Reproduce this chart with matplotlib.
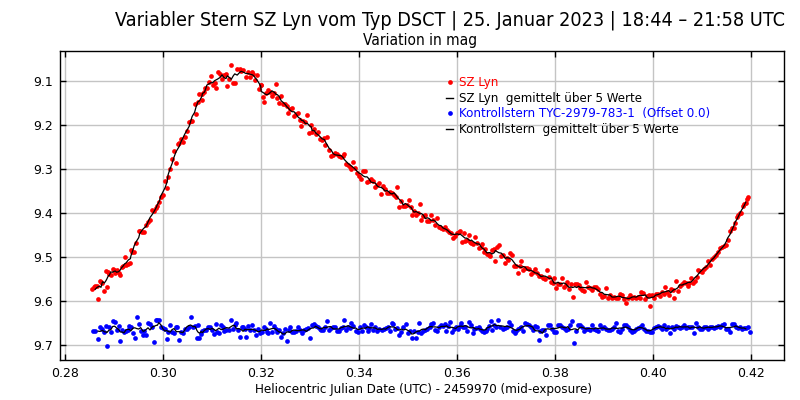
import matplotlib
matplotlib.use("Agg")
import matplotlib.pyplot as plt
from matplotlib import font_manager as fm
from matplotlib.lines import Line2D
import pandas as pd

# SZ Lyn (HJD - 2459970, mag)
var_hjd = [
    0.2855, 0.2858, 0.2861, 0.2864, 0.2867, 0.2870, 0.2873, 0.2876, 0.2880, 0.2883,
    0.2885, 0.2888, 0.2890, 0.2893, 0.2897, 0.2899, 0.2902, 0.2905, 0.2909, 0.2912,
    0.2915, 0.2918, 0.2921, 0.2924, 0.2929, 0.2933, 0.2934, 0.2937, 0.2941, 0.2945, 0.2950,
    0.2952, 0.2957, 0.2960, 0.2965, 0.2969, 0.2973, 0.2978, 0.2982, 0.2986, 0.2988,
    0.2992, 0.2995, 0.2999, 0.3004, 0.3008, 0.3010, 0.3014, 0.3018, 0.3026, 0.3022,
    0.3031, 0.3033, 0.3037, 0.3040, 0.3044, 0.3048, 0.3053, 0.3057, 0.3059, 0.3067,
    0.3064, 0.3071, 0.3074, 0.3079, 0.3080, 0.3084, 0.3086, 0.3089, 0.3094, 0.3097,
    0.3101, 0.3105, 0.3107, 0.3111, 0.3116, 0.3120, 0.3124, 0.3128, 0.3131, 0.3135,
    0.3139, 0.3143, 0.3146, 0.3151, 0.3156, 0.3159, 0.3163, 0.3169, 0.3173, 0.3178,
    0.3182, 0.3184, 0.3188, 0.3192, 0.3195, 0.3199,
    0.3200, 0.3203, 0.3206, 0.3210, 0.3214, 0.3218, 0.3222, 0.3227, 0.3231, 0.3233,
    0.3237, 0.3241, 0.3245, 0.3249, 0.3253, 0.3255, 0.3259, 0.3263, 0.3267, 0.3271,
    0.3276, 0.3280, 0.3282, 0.3286, 0.3290, 0.3294, 0.3298, 0.3302, 0.3304, 0.3308,
    0.3312, 0.3316, 0.3320, 0.3324, 0.3329, 0.3331, 0.3335, 0.3339, 0.3343, 0.3347,
    0.3351, 0.3355, 0.3359, 0.3363, 0.3367, 0.3369, 0.3373, 0.3378, 0.3382, 0.3384,
    0.3388, 0.3392, 0.3396, 0.3400, 0.3404, 0.3408, 0.3412, 0.3416, 0.3420, 0.3424,
    0.3429, 0.3433, 0.3437, 0.3441, 0.3445, 0.3449, 0.3453, 0.3457, 0.3461, 0.3463,
    0.3467, 0.3471, 0.3476, 0.3478, 0.3482, 0.3486, 0.3490, 0.3494, 0.3498, 0.3502,
    0.3506, 0.3508, 0.3512, 0.3516, 0.3520, 0.3524, 0.3527, 0.3531, 0.3535, 0.3539,
    0.3543, 0.3547, 0.3551, 0.3555, 0.3559, 0.3563, 0.3567, 0.3571, 0.3576, 0.3580,
    0.3584, 0.3588, 0.3592, 0.3596, 0.3600, 0.3604,
    0.3606, 0.3610, 0.3614, 0.3616, 0.3620, 0.3624, 0.3627, 0.3629, 0.3633, 0.3637,
    0.3641, 0.3645, 0.3649, 0.3651, 0.3655, 0.3657, 0.3661, 0.3665, 0.3667, 0.3671,
    0.3676, 0.3678, 0.3681, 0.3685, 0.3690, 0.3694, 0.3698, 0.3701, 0.3703, 0.3708,
    0.3712, 0.3716, 0.3720, 0.3724, 0.3728, 0.3731, 0.3735, 0.3739, 0.3743, 0.3747,
    0.3751, 0.3755, 0.3759, 0.3763, 0.3767, 0.3771, 0.3776, 0.3780, 0.3784, 0.3788,
    0.3792, 0.3796, 0.3797, 0.3801, 0.3806, 0.3810, 0.3814, 0.3818, 0.3822, 0.3824,
    0.3828, 0.3832, 0.3836, 0.3840, 0.3844, 0.3848, 0.3851, 0.3855, 0.3859, 0.3863,
    0.3867, 0.3871, 0.3876, 0.3880, 0.3884, 0.3888, 0.3892, 0.3896, 0.3900, 0.3904,
    0.3908, 0.3912, 0.3916, 0.3920, 0.3924, 0.3929, 0.3933, 0.3937, 0.3941, 0.3945,
    0.3949, 0.3953, 0.3957, 0.3961, 0.3965, 0.3969, 0.3973,
    0.3976, 0.3980, 0.3984, 0.3988, 0.3992, 0.3994, 0.3997, 0.4001, 0.4005, 0.4010,
    0.4014, 0.4018, 0.4022, 0.4024, 0.4028, 0.4032, 0.4036, 0.4040, 0.4042, 0.4046,
    0.4050, 0.4054, 0.4059, 0.4063, 0.4067, 0.4071, 0.4073, 0.4077, 0.4081, 0.4085,
    0.4089, 0.4092, 0.4096, 0.4100, 0.4104, 0.4108, 0.4112, 0.4116, 0.4120, 0.4124,
    0.4129, 0.4133, 0.4137, 0.4141, 0.4145, 0.4149, 0.4152, 0.4157, 0.4161, 0.4165,
    0.4167, 0.4171, 0.4174, 0.4177, 0.4180, 0.4183, 0.4186, 0.4189, 0.4192, 0.4194,
]
var_mag = [
    9.573, 9.569, 9.566, 9.565, 9.595, 9.555, 9.557, 9.560, 9.577, 9.532,
    9.568, 9.533, 9.539, 9.541, 9.527, 9.530, 9.536, 9.530, 9.536, 9.541,
    9.523, 9.520, 9.501, 9.519, 9.515, 9.513, 9.484, 9.488, 9.488, 9.467, 9.441,
    9.440, 9.444, 9.443, 9.427, 9.421, 9.416, 9.393, 9.395, 9.388, 9.384,
    9.374, 9.363, 9.358, 9.327, 9.343, 9.318, 9.300, 9.277, 9.286, 9.259,
    9.244, 9.240, 9.231, 9.239, 9.227, 9.213, 9.193, 9.192, 9.190, 9.176,
    9.152, 9.147, 9.130, 9.130, 9.143, 9.124, 9.115, 9.116, 9.103, 9.089,
    9.108, 9.104, 9.115, 9.080, 9.083, 9.096, 9.086, 9.085, 9.111, 9.095,
    9.064, 9.105, 9.105, 9.072, 9.073, 9.078, 9.075, 9.092, 9.080, 9.090,
    9.079, 9.083, 9.098, 9.086, 9.118, 9.109,
    9.109, 9.136, 9.147, 9.127, 9.121, 9.124, 9.133, 9.128, 9.106, 9.139,
    9.149, 9.133, 9.152, 9.153, 9.157, 9.172, 9.163, 9.161, 9.179, 9.174,
    9.172, 9.188, 9.202, 9.191, 9.194, 9.177, 9.219, 9.199, 9.217, 9.208,
    9.221, 9.217, 9.232, 9.233, 9.229, 9.245, 9.227, 9.257, 9.270, 9.268,
    9.264, 9.267, 9.270, 9.273, 9.271, 9.267, 9.288, 9.290, 9.296, 9.299,
    9.283, 9.297, 9.308, 9.316, 9.323, 9.304, 9.305, 9.330, 9.327, 9.323,
    9.327, 9.342, 9.336, 9.332, 9.357, 9.339, 9.345, 9.354, 9.355, 9.352,
    9.355, 9.359, 9.363, 9.341, 9.386, 9.373, 9.383, 9.384, 9.382, 9.370,
    9.386, 9.404, 9.395, 9.404, 9.401, 9.379, 9.415, 9.407, 9.404, 9.419,
    9.419, 9.405, 9.416, 9.428, 9.412, 9.431, 9.433, 9.436, 9.431, 9.439,
    9.443, 9.446, 9.457, 9.452, 9.445, 9.442,
    9.441, 9.465, 9.446, 9.463, 9.461, 9.450, 9.466, 9.467, 9.470, 9.454,
    9.469, 9.480, 9.478, 9.471, 9.488, 9.482, 9.492, 9.495, 9.497, 9.484,
    9.482, 9.508, 9.478, 9.473, 9.497, 9.495, 9.513, 9.503, 9.507, 9.490,
    9.495, 9.520, 9.520, 9.536, 9.520, 9.508, 9.530, 9.525, 9.525, 9.528,
    9.539, 9.533, 9.528, 9.537, 9.543, 9.543, 9.548, 9.551, 9.530, 9.546,
    9.556, 9.560, 9.547, 9.570, 9.561, 9.561, 9.547, 9.567, 9.564, 9.556,
    9.573, 9.561, 9.590, 9.561, 9.561, 9.564, 9.571, 9.575, 9.577, 9.556,
    9.569, 9.571, 9.575, 9.569, 9.567, 9.572, 9.583, 9.590, 9.588, 9.570,
    9.592, 9.586, 9.594, 9.590, 9.593, 9.592, 9.583, 9.586, 9.595, 9.604,
    9.594, 9.587, 9.592, 9.590, 9.592, 9.590, 9.592,
    9.579, 9.581, 9.595, 9.589, 9.586, 9.611, 9.586, 9.592, 9.583, 9.583,
    9.589, 9.579, 9.583, 9.567, 9.580, 9.586, 9.573, 9.575, 9.592, 9.555,
    9.577, 9.566, 9.561, 9.557, 9.558, 9.566, 9.560, 9.547, 9.558, 9.554,
    9.545, 9.530, 9.531, 9.534, 9.528, 9.523, 9.508, 9.519, 9.505, 9.501,
    9.496, 9.488, 9.480, 9.477, 9.475, 9.473, 9.461, 9.440, 9.435, 9.433,
    9.422, 9.410, 9.405, 9.400, 9.400, 9.385, 9.380, 9.378, 9.369, 9.364,
]

# Kontrollstern TYC-2979-783-1
chk_hjd = [
    0.2856, 0.2861, 0.2867, 0.2871, 0.2876, 0.2880, 0.2884, 0.2885, 0.2889, 0.2893,
    0.2897, 0.2901, 0.2905, 0.2910, 0.2912, 0.2916, 0.2920, 0.2924, 0.2929, 0.2931,
    0.2934, 0.2938, 0.2942, 0.2946, 0.2950, 0.2954, 0.2959, 0.2961, 0.2965, 0.2969,
    0.2973, 0.2978, 0.2982, 0.2986, 0.2988, 0.2991, 0.2995, 0.2999, 0.3003, 0.3007,
    0.3010, 0.3014, 0.3018, 0.3022, 0.3027, 0.3029, 0.3033, 0.3036, 0.3040, 0.3044,
    0.3048, 0.3052, 0.3056, 0.3061, 0.3065, 0.3069, 0.3071, 0.3074, 0.3077, 0.3080,
    0.3084, 0.3088, 0.3092, 0.3096, 0.3100, 0.3103, 0.3107, 0.3110, 0.3114, 0.3118,
    0.3122, 0.3124, 0.3129, 0.3134, 0.3138, 0.3142, 0.3146, 0.3149, 0.3153, 0.3156,
    0.3160, 0.3163, 0.3167, 0.3169, 0.3173, 0.3178, 0.3182, 0.3186, 0.3190, 0.3194,
    0.3198, 0.3201, 0.3205, 0.3209, 0.3212, 0.3214, 0.3218, 0.3222, 0.3227, 0.3231,
    0.3233, 0.3237, 0.3240, 0.3244, 0.3248, 0.3252, 0.3256, 0.3259, 0.3263, 0.3267,
    0.3271, 0.3276, 0.3280, 0.3284, 0.3288, 0.3292, 0.3296, 0.3300, 0.3304, 0.3307,
    0.3311, 0.3315, 0.3319, 0.3323, 0.3327, 0.3331, 0.3334, 0.3338, 0.3342, 0.3346,
    0.3350, 0.3354, 0.3359, 0.3363, 0.3367, 0.3369, 0.3373, 0.3378, 0.3382, 0.3384,
    0.3388, 0.3393, 0.3397, 0.3401, 0.3405, 0.3409, 0.3413, 0.3417, 0.3421, 0.3425,
    0.3429, 0.3433, 0.3437, 0.3441, 0.3446, 0.3450, 0.3454, 0.3458, 0.3462, 0.3466,
    0.3470, 0.3474, 0.3478, 0.3482, 0.3486, 0.3490, 0.3495, 0.3499, 0.3503, 0.3507,
    0.3511, 0.3515, 0.3519, 0.3523, 0.3527, 0.3531, 0.3535, 0.3539, 0.3544,
    0.3547, 0.3551, 0.3555, 0.3559, 0.3563, 0.3567, 0.3571, 0.3576, 0.3578, 0.3581,
    0.3585, 0.3589, 0.3593, 0.3597, 0.3601, 0.3605, 0.3608, 0.3612, 0.3616, 0.3620,
    0.3624, 0.3629, 0.3633, 0.3635, 0.3639, 0.3644, 0.3646, 0.3650, 0.3654, 0.3659,
    0.3661, 0.3665, 0.3668, 0.3672, 0.3676, 0.3680, 0.3684, 0.3688, 0.3693, 0.3697,
    0.3701, 0.3705, 0.3709, 0.3713, 0.3717, 0.3721, 0.3724, 0.3728, 0.3731, 0.3735,
    0.3739, 0.3743, 0.3747, 0.3751, 0.3754, 0.3758, 0.3762, 0.3766, 0.3770, 0.3774,
    0.3778, 0.3781, 0.3785, 0.3789, 0.3793, 0.3797, 0.3801, 0.3805, 0.3810, 0.3814,
    0.3818, 0.3822, 0.3826, 0.3830, 0.3834, 0.3838, 0.3842, 0.3846, 0.3850, 0.3854,
    0.3859, 0.3863, 0.3867, 0.3871, 0.3875, 0.3879, 0.3883, 0.3887, 0.3891, 0.3895,
    0.3899, 0.3903, 0.3907, 0.3912, 0.3916, 0.3920, 0.3924, 0.3928, 0.3932, 0.3936,
    0.3940, 0.3944, 0.3948, 0.3952, 0.3956, 0.3961, 0.3965, 0.3969, 0.3973, 0.3977,
    0.3981, 0.3985, 0.3989, 0.3993, 0.3997, 0.4001, 0.4005, 0.4010, 0.4014, 0.4018,
    0.4022, 0.4026, 0.4030, 0.4034, 0.4038, 0.4042, 0.4046, 0.4050, 0.4054, 0.4059,
    0.4063, 0.4067, 0.4071, 0.4075, 0.4079, 0.4083, 0.4087, 0.4091, 0.4095, 0.4099,
    0.4103, 0.4107, 0.4112, 0.4116, 0.4120, 0.4124, 0.4128, 0.4132, 0.4136, 0.4140,
    0.4144, 0.4148, 0.4152, 0.4156, 0.4161, 0.4165, 0.4169, 0.4173, 0.4177, 0.4181,
    0.4185, 0.4189, 0.4193, 0.4197,
]
chk_mag = [
    9.667, 9.667, 9.686, 9.658, 9.664, 9.670, 9.656, 9.702, 9.660, 9.670,
    9.645, 9.648, 9.666, 9.657, 9.691, 9.666, 9.671, 9.667, 9.666, 9.657,
    9.660, 9.673, 9.683, 9.636, 9.652, 9.669, 9.678, 9.667, 9.678, 9.649,
    9.652, 9.658, 9.692, 9.642, 9.642, 9.642, 9.658, 9.662, 9.664, 9.686,
    9.670, 9.654, 9.670, 9.673, 9.658, 9.658, 9.689, 9.670, 9.673, 9.664,
    9.663, 9.658, 9.636, 9.658, 9.657, 9.683, 9.655, 9.683, 9.675, 9.669,
    9.666, 9.666, 9.658, 9.658, 9.666, 9.675, 9.652, 9.670, 9.673, 9.655,
    9.658, 9.669, 9.666, 9.666, 9.643, 9.663, 9.655, 9.651, 9.666, 9.681,
    9.660, 9.658, 9.664, 9.681, 9.657, 9.666, 9.655, 9.666, 9.677, 9.664,
    9.673, 9.670, 9.658, 9.663, 9.670, 9.672, 9.651, 9.670, 9.657, 9.663,
    9.670, 9.666, 9.681, 9.673, 9.664, 9.690, 9.666, 9.660, 9.670, 9.670,
    9.669, 9.660, 9.666, 9.672, 9.666, 9.664, 9.661, 9.683, 9.654, 9.652,
    9.657, 9.660, 9.664, 9.666, 9.666, 9.660, 9.645, 9.666, 9.661, 9.660,
    9.658, 9.669, 9.669, 9.661, 9.660, 9.642, 9.666, 9.660, 9.661, 9.651,
    9.657, 9.669, 9.670, 9.660, 9.667, 9.655, 9.658, 9.667, 9.661, 9.652,
    9.666, 9.658, 9.667, 9.664, 9.666, 9.664, 9.661, 9.660, 9.669, 9.649,
    9.652, 9.664, 9.661, 9.677, 9.670, 9.658, 9.652, 9.673, 9.667, 9.683,
    9.669, 9.683, 9.670, 9.649, 9.672, 9.667, 9.666, 9.664, 9.658,
    9.652, 9.651, 9.666, 9.667, 9.658, 9.655, 9.657, 9.652, 9.667, 9.657,
    9.648, 9.670, 9.663, 9.660, 9.663, 9.657, 9.649, 9.658, 9.658, 9.667,
    9.648, 9.654, 9.673, 9.664, 9.661, 9.658, 9.663, 9.667, 9.670, 9.667,
    9.663, 9.657, 9.645, 9.666, 9.654, 9.660, 9.642, 9.658, 9.663, 9.661,
    9.660, 9.648, 9.654, 9.667, 9.673, 9.669, 9.664, 9.661, 9.660, 9.667,
    9.649, 9.652, 9.655, 9.658, 9.666, 9.657, 9.660, 9.689, 9.667, 9.666,
    9.666, 9.677, 9.655, 9.655, 9.663, 9.670, 9.670, 9.654, 9.655, 9.658,
    9.661, 9.666, 9.663, 9.655, 9.645, 9.695, 9.667, 9.655, 9.655, 9.658,
    9.667, 9.663, 9.663, 9.666, 9.654, 9.664, 9.666, 9.667, 9.655, 9.661,
    9.660, 9.664, 9.666, 9.666, 9.663, 9.660, 9.651, 9.667, 9.670, 9.663,
    9.655, 9.654, 9.658, 9.666, 9.670, 9.667, 9.663, 9.661, 9.658, 9.655,
    9.663, 9.667, 9.669, 9.670, 9.670, 9.661, 9.658, 9.657, 9.658, 9.664,
    9.655, 9.663, 9.660, 9.672, 9.658, 9.663, 9.657, 9.658, 9.661, 9.660,
    9.655, 9.661, 9.658, 9.660, 9.658, 9.672, 9.649, 9.658, 9.663, 9.664,
    9.658, 9.660, 9.663, 9.658, 9.658, 9.661, 9.660, 9.657, 9.658, 9.655,
    9.652, 9.663, 9.664, 9.670, 9.652, 9.652, 9.658, 9.661, 9.660, 9.664,
    9.661, 9.661, 9.660, 9.670,
]

x_ticks = [0.28, 0.30, 0.32, 0.34, 0.36, 0.38, 0.40, 0.42]
y_ticks = [9.1, 9.2, 9.3, 9.4, 9.5, 9.6, 9.7]

legend_labels = [
    "SZ Lyn",
    "SZ Lyn  gemittelt über 5 Werte",
    "Kontrollstern TYC-2979-783-1  (Offset 0.0)",
    "Kontrollstern  gemittelt über 5 Werte",
]
legend_colors = ["red", "black", "blue", "black"]


def narrow_font():
    # schmale Schrift suchen, sonst Liberation Sans
    for f in fm.fontManager.ttflist:
        if f.name == "Liberation Sans Narrow" and f.weight in (400, "normal", "regular") and f.style == "normal":
            return fm.FontProperties(fname=f.fname)
    for f in fm.fontManager.ttflist:
        tag = (f.name + " " + f.fname).lower()
        if ("condensed" in tag or "narrow" in tag) and "bold" not in tag and "oblique" not in tag \
                and "italic" not in tag and f.style == "normal":
            return fm.FontProperties(fname=f.fname)
    return fm.FontProperties(family="Liberation Sans")


def fit_width(txt, width_px, renderer):
    # Schriftgroesse so anpassen, dass der Text die Breite wie im Original hat
    for _ in range(3):
        w = txt.get_window_extent(renderer).width
        txt.set_fontsize(txt.get_fontsize() * width_px / w)


# gleitender Mittelwert ueber 5 Werte
var = pd.DataFrame({"t": var_hjd, "m": var_mag}).sort_values("t")
chk = pd.DataFrame({"t": chk_hjd, "m": chk_mag}).sort_values("t")
var_avg = var["m"].rolling(5, center=True).mean()
chk_avg = chk["m"].rolling(5, center=True).mean()

fig = plt.figure(figsize=(8, 4), dpi=100)
ax = fig.add_axes([0.0754, 0.10, 0.9046, 0.7733])

ax.grid(True, color="#c4c4c4", linewidth=1.0, zorder=0)
ax.set_axisbelow(True)

ax.plot(var["t"], var["m"], "o", color="red", markersize=3.4, markeredgewidth=0, zorder=3)
ax.plot(var["t"], var_avg, "-", color="black", linewidth=0.9, zorder=4)
ax.plot(chk["t"], chk["m"], "o", color="blue", markersize=3.4, markeredgewidth=0, zorder=3)
ax.plot(chk["t"], chk_avg, "-", color="black", linewidth=0.9, zorder=4)

ax.set_xlim(0.2790, 0.4267)
ax.set_ylim(9.734, 9.0311)
ax.set_xticks(x_ticks)
ax.set_xticklabels([f"{v:.2f}" for v in x_ticks], fontsize=9)
ax.set_yticks(y_ticks)
ax.set_yticklabels([f"{v:.1f}" for v in y_ticks], fontsize=9)
ax.tick_params(direction="in", length=4, width=1, top=True, right=True, pad=5)
for s in ax.spines.values():
    s.set_linewidth(1.0)

nf = narrow_font()
fig.canvas.draw()
renderer = fig.canvas.get_renderer()

xl = fig.text(0.529, 1 - 389 / 400, "Heliocentric Julian Date (UTC) - 2459970 (mid-exposure)",
              ha="center", va="center", fontproperties=nf, fontsize=10)
fit_width(xl, 336, renderer)

title = fig.text(785 / 800, 1 - 20 / 400,
                 "Variabler Stern SZ Lyn vom Typ DSCT | 25. Januar 2023 | 18:44 – 21:58 UTC",
                 ha="right", va="center", fontproperties=nf, fontsize=14)
fit_width(title, 671, renderer)

sub = fig.text(420 / 800, 1 - 40 / 400, "Variation in mag", ha="center", va="center",
               fontproperties=nf, fontsize=10)
fit_width(sub, 114, renderer)

handles = [
    Line2D([], [], marker="o", color="red", linestyle="none", markersize=3.4, markeredgewidth=0),
    Line2D([], [], color="black", linewidth=1.0),
    Line2D([], [], marker="o", color="blue", linestyle="none", markersize=3.4, markeredgewidth=0),
    Line2D([], [], color="black", linewidth=1.0),
]
leg = fig.legend(handles, legend_labels, loc="upper left",
                 bbox_to_anchor=(446 / 800, 1 - 76 / 400), bbox_transform=fig.transFigure,
                 frameon=False, fontsize=8.6, handlelength=0.6, handletextpad=0.45,
                 labelspacing=0.23, borderpad=0, borderaxespad=0,
                 labelcolor=legend_colors)

fig.savefig("out.png", dpi=100)
